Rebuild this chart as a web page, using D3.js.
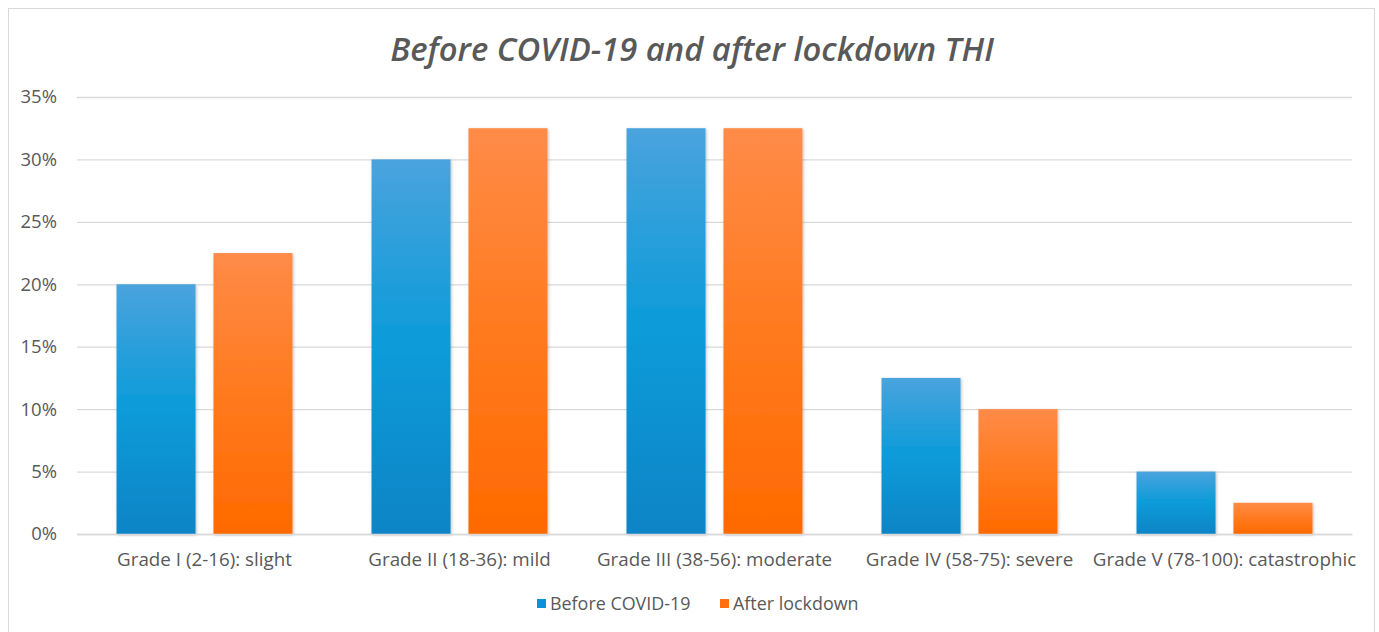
<!DOCTYPE html>
<html><head><meta charset="utf-8">
<script src="https://cdn.jsdelivr.net/npm/d3@7"></script>
<style>body{margin:0;background:#fff;}svg{display:block;}</style>
</head><body>
<svg id="c" width="1379" height="632"></svg>
<script>
const categories = ["Grade I (2-16): slight","Grade II (18-36): mild","Grade III (38-56): moderate","Grade IV (58-75): severe","Grade V (78-100): catastrophic"];
const seriesNames = ["Before COVID-19","After lockdown"];
const beforeCovid = [20, 30, 32.5, 12.5, 5];
const afterLockdown = [22.5, 32.5, 32.5, 10, 2.5];
const yTicks = [0,5,10,15,20,25,30,35];
const title = "Before COVID-19 and after lockdown THI";

(function(){
const svg = d3.select("#c");
const font = "'Open Sans', 'Noto Sans', sans-serif";
const textColor = "#595959";

svg.append("rect").attr("x",8.5).attr("y",8.5).attr("width",1366).attr("height",640)
  .attr("fill","#fff").attr("stroke","#d9d9d9").attr("stroke-width",1);

const defs = svg.append("defs");
const grads = [["gBlue","#4aa3dd","#0a9bd9","#0a84c6"],["gOrange","#ff8b48","#ff7a1e","#ff6a00"]];
grads.forEach(([id,a,b,c])=>{
  const g = defs.append("linearGradient").attr("id",id).attr("x1",0).attr("y1",0).attr("x2",0).attr("y2",1);
  g.append("stop").attr("offset","0%").attr("stop-color",a);
  g.append("stop").attr("offset","50%").attr("stop-color",b);
  g.append("stop").attr("offset","100%").attr("stop-color",c);
});
const f = defs.append("filter").attr("id","sh").attr("x","-10%").attr("y","-10%").attr("width","130%").attr("height","130%");
f.append("feDropShadow").attr("dx",1).attr("dy",1).attr("stdDeviation",1.5).attr("flood-color","#000").attr("flood-opacity",0.25);

const pL = 77, pR = 1352, pT = 97, pB = 534;
const x0 = d3.scaleBand().domain(categories).range([pL,pR]).paddingInner(0.31).paddingOuter(0.155);
const x1 = d3.scaleBand().domain(seriesNames).range([0,x0.bandwidth()]).paddingInner(0.185);
const y = d3.scaleLinear().domain([0,35]).range([pB,pT]);

const yAxis = d3.axisLeft(y).tickValues(yTicks).tickFormat(d=>d+"%").tickSize(-(pR-pL)).tickPadding(20);
const ga = svg.append("g").attr("transform",`translate(${pL},0)`).call(yAxis);
ga.select(".domain").remove();
ga.selectAll(".tick line").attr("stroke","#d9d9d9").attr("stroke-width",1.3);
ga.selectAll(".tick text").attr("fill",textColor).attr("font-family",font).attr("font-size",18.5).attr("x",-20);

const data = categories.map((c,i)=>({c, vals:[beforeCovid[i], afterLockdown[i]]}));
const groups = svg.append("g").selectAll("g").data(data).join("g")
  .attr("transform",d=>`translate(${x0(d.c)},0)`);
groups.selectAll("rect").data(d=>d.vals.map((v,j)=>({s:seriesNames[j],v,j}))).join("rect")
  .attr("x",d=>x1(d.s)).attr("width",x1.bandwidth())
  .attr("y",d=>y(d.v)).attr("height",d=>y(0)-y(d.v))
  .attr("fill",d=>d.j===0?"url(#gBlue)":"url(#gOrange)")
  .attr("filter","url(#sh)");

const xAxis = d3.axisBottom(x0).tickSize(0).tickPadding(19);
const gx = svg.append("g").attr("transform",`translate(0,${pB})`).call(xAxis);
gx.select(".domain").attr("stroke","#d9d9d9").attr("stroke-width",1.3);
gx.selectAll(".tick text").attr("fill",textColor).attr("font-family",font).attr("font-size",18.8);

svg.append("text").attr("x",692).attr("y",61).attr("text-anchor","middle")
  .attr("font-family",font).attr("font-size",32.8).attr("font-style","italic").attr("font-weight",600)
  .attr("fill",textColor).text(title);

const legendColors = ["#0a93d6","#ff6f0f"];
const legendX = [537, 720];
const lg = svg.append("g");
seriesNames.forEach((s,i)=>{
  lg.append("rect").attr("x",legendX[i]).attr("y",599).attr("width",9).attr("height",9).attr("fill",legendColors[i]);
  lg.append("text").attr("x",legendX[i]+13).attr("y",610).attr("font-family",font).attr("font-size",17.9)
    .attr("fill",textColor).text(s);
});
})();
</script>
</body></html>
